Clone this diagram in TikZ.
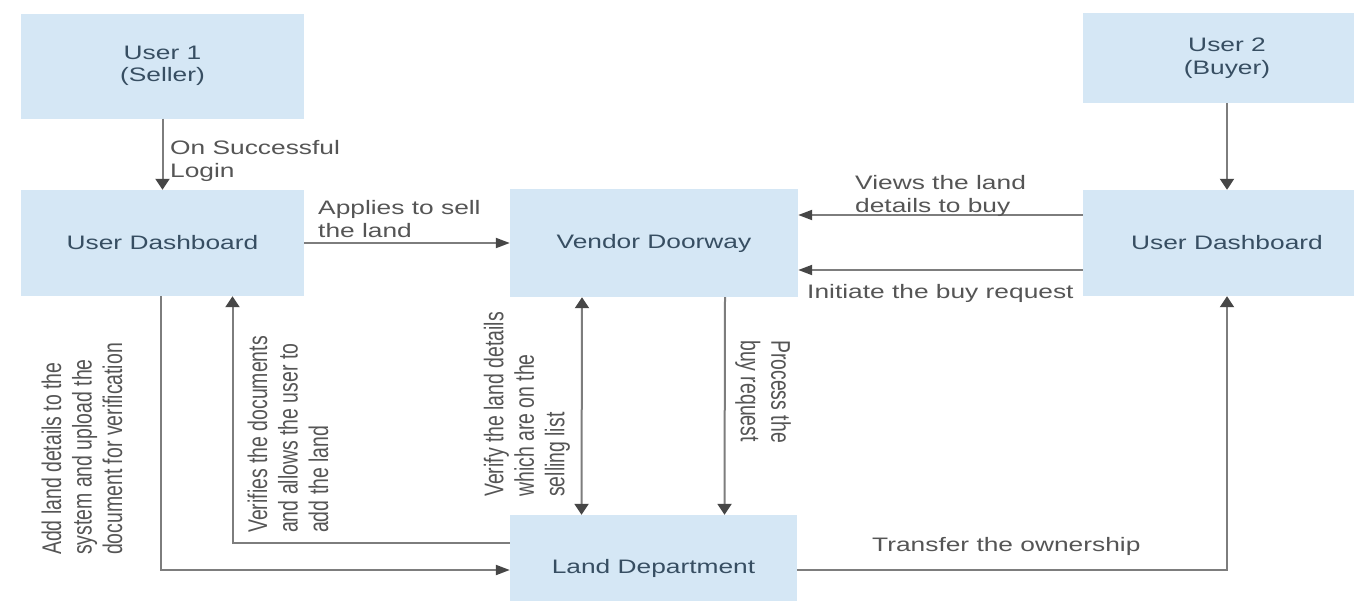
\documentclass[tikz,border=0pt]{standalone}
\usepackage{fontspec}
\setmainfont[FakeStretch=1.35]{Liberation Sans}
\newfontfamily\rotfont[FakeStretch=0.72]{Liberation Sans}
\usetikzlibrary{arrows.meta,calc}
\definecolor{boxfill}{RGB}{213,231,245}
\definecolor{boxtext}{RGB}{55,78,98}
\definecolor{lbl}{RGB}{85,85,85}
\definecolor{linec}{RGB}{125,125,125}
\definecolor{headc}{RGB}{70,70,70}
\tikzset{
  htip/.tip={Triangle[length=14pt,width=10pt,color=headc]},
  vtip/.tip={Triangle[length=11pt,width=14pt,color=headc]},
}
\begin{document}
\begin{tikzpicture}[x=1pt,y=-1pt,
  box/.style={fill=boxfill, draw=none, text=boxtext, align=center, inner sep=0pt,
    font=\fontsize{19.5}{22.5}\selectfont},
  conn/.style={draw=linec, line width=2pt},
  harr/.style={conn, -htip},
  varr/.style={conn, -vtip},
  dvarr/.style={conn, vtip-vtip},
  lab/.style={text=lbl, align=left, inner sep=0pt, font=\fontsize{19.5}{23}\selectfont},
  rlab/.style={text=lbl, align=left, inner sep=0pt, font=\rotfont\fontsize{27}{30.5}\selectfont},
]
\useasboundingbox (0,0) rectangle (1354,600);
\clip (0,0) rectangle (1354,600);
\fill[white] (0,0) rectangle (1354,600);

% boxes
\node[box, minimum width=283pt, minimum height=105pt] (u1) at (162.5,66) {User 1\\(Seller)};
\node[box, minimum width=283pt, minimum height=106pt] (ld1) at (162.5,243) {User Dashboard};
\node[box, minimum width=288pt, minimum height=108pt] (vd) at (654,243) {Vendor Doorway};
\node[box, minimum width=288pt, minimum height=90pt] (u2) at (1227,58) {User 2\\(Buyer)};
\node[box, minimum width=288pt, minimum height=106pt] (rd) at (1227,243) {User Dashboard};
\node[box, minimum width=287pt, minimum height=106pt] (land) at (653.5,568) {Land Department};

% connectors
\draw[varr] (u1.south) -- (ld1.north);
\draw[harr] (ld1.east) -- (vd.west);
\draw[harr] ([yshift=28pt]rd.west) -- ([yshift=28pt]vd.east);
\draw[harr] ([yshift=-27pt]rd.west) -- ([yshift=-27pt]vd.east);
\draw[dvarr] ([xshift=-72pt]vd.south) -- ([xshift=-72pt]land.north);
\draw[varr] ([xshift=71pt]vd.south) -- ([xshift=71pt]land.north);
\draw[harr] ([xshift=-2pt]ld1.south) |- ([yshift=-2pt]land.west);
\draw[varr] ([yshift=25pt]land.west) -| ([xshift=70pt]ld1.south);
\draw[varr] ([yshift=-2pt]land.east) -| (rd.south);
\draw[varr] (u2.south) -- (rd.north);

% labels
\node[lab, anchor=north west] (l1) at (170,140) {On Successful\\Login};
\node[lab, anchor=north west] (l2) at (318,200) {Applies to sell\\the land};
\node[lab, anchor=north west] (l3) at (855,175) {Views the land\\details to buy};
\node[lab, anchor=north west] (l4) at (807,284) {Initiate the buy request};
\node[lab, anchor=north west] (l5) at (872,537) {Transfer the ownership};
\node[rlab, rotate=90, anchor=west] (l6) at (82,555) {Add land details to the\\system and upload the\\document for verification};
\node[rlab, rotate=90, anchor=west] (l7) at (288,533) {Verifies the documents\\and allows the user to\\add the land};
\node[rlab, rotate=90, anchor=west] (l8) at (527,497) {Verify the land details\\which are on the\\selling list};
\node[rlab, rotate=-90, anchor=west] (l9) at (763,340) {Process the\\buy request};
\end{tikzpicture}
\end{document}
